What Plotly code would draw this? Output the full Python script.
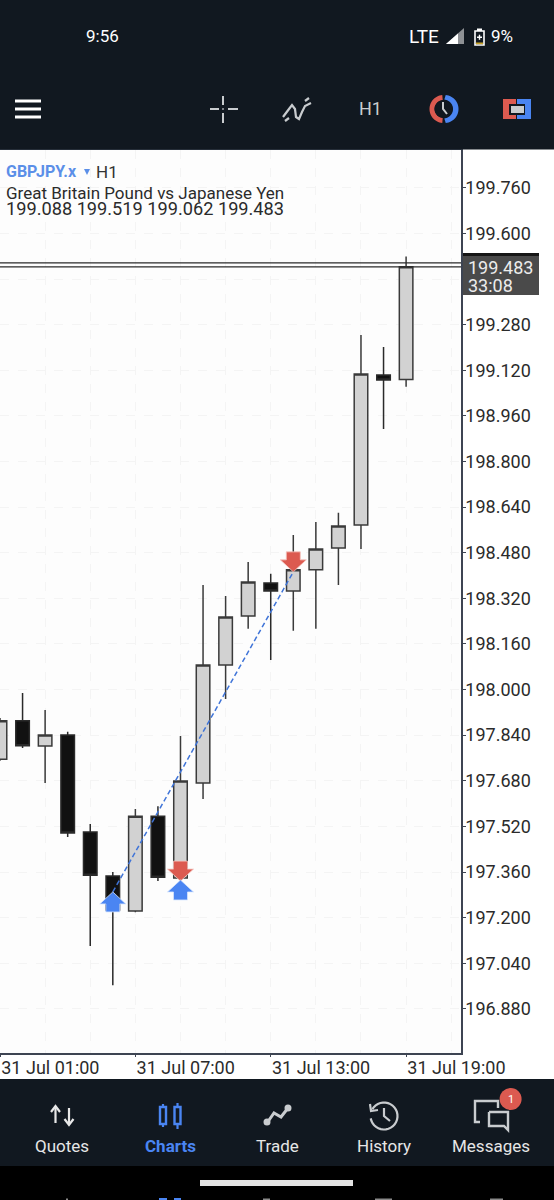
import numpy as np
import plotly.graph_objects as go

W, H = 554, 1200
DARK = "#111820"
GREY = "#c9cccf"
BLUE = "#4a85f2"
RED = "#dc5a50"
FONT = "Roboto"

# 31 Jul hourly candles
times = ["2025-07-31 %02d:00" % h for h in range(1, 20)]
opens = [197.756, 197.891, 197.802, 197.841, 197.500, 197.346, 197.223, 197.556, 197.339, 197.672,
         198.086, 198.258, 198.374, 198.346, 198.420, 198.497, 198.577, 199.104, 199.088]
highs = [197.900, 197.988, 197.928, 197.852, 197.528, 197.360, 197.581, 197.591, 197.837, 198.367,
         198.328, 198.448, 198.406, 198.542, 198.588, 198.620, 199.244, 199.202, 199.519]
lows = [197.750, 197.795, 197.672, 197.483, 197.100, 196.963, 197.219, 197.328, 197.335, 197.616,
        197.967, 198.213, 198.104, 198.206, 198.213, 198.367, 198.493, 198.914, 199.062]
closes = [197.891, 197.803, 197.841, 197.497, 197.349, 197.227, 197.556, 197.342, 197.679, 198.086,
          198.255, 198.377, 198.346, 198.420, 198.493, 198.574, 199.107, 199.086, 199.483]

y_ticks = [196.88, 197.04, 197.2, 197.36, 197.52, 197.68, 197.84, 198.0, 198.16, 198.32,
           198.48, 198.64, 198.8, 198.96, 199.12, 199.28, 199.6, 199.76]
x_ticks = ["2025-07-31 01:00", "2025-07-31 07:00", "2025-07-31 13:00", "2025-07-31 19:00"]
price_lines = [199.483, 199.497]

trade_x = ["2025-07-31 06:00", "2025-07-31 14:00"]
trade_y = [197.290, 198.413]
buy_x = ["2025-07-31 06:00", "2025-07-31 09:00"]
buy_y = [197.290, 197.332]
sell_x = ["2025-07-31 09:00", "2025-07-31 14:00"]
sell_y = [197.328, 198.413]


def px(x):
    return x / W


def py(y):
    return 1 - y / H


shapes = []
notes = []


def rect(x0, y0, x1, y1, color):
    shapes.append(dict(type="rect", xref="paper", yref="paper", x0=px(x0), x1=px(x1), y0=py(y0), y1=py(y1),
                       fillcolor=color, line_width=0))


def circle(cx, cy, r, fill, line=None, lw=0):
    shapes.append(dict(type="circle", xref="paper", yref="paper", x0=px(cx - r), x1=px(cx + r),
                       y0=py(cy - r), y1=py(cy + r), fillcolor=fill, line=dict(color=line, width=lw)))


def poly(points, color=None, line=None, lw=0, close=True):
    d = "M" + " L".join("%.5f %.5f" % (px(a), py(b)) for a, b in points) + (" Z" if close else "")
    shapes.append(dict(type="path", xref="paper", yref="paper", path=d, fillcolor=color,
                       line=dict(color=line, width=lw)))


def seg(points, color, lw):
    poly(points, None, color, lw, close=False)


def arc(cx, cy, r, a0, a1):
    return [(cx + r * np.cos(t), cy + r * np.sin(t)) for t in np.radians(np.linspace(a0, a1, 30))]


def txt(x, y, s, size, color, anchor="left", family=FONT):
    notes.append(dict(xref="paper", yref="paper", x=px(x), y=py(y), text=s, showarrow=False, xanchor=anchor,
                      yanchor="middle", borderpad=0, font=dict(family=family, size=size, color=color)))


# app chrome
rect(0, 0, W, 149.5, DARK)
rect(0, 1079, W, 1166, DARK)
rect(0, 1166, W, H, "#000000")
rect(200, 1180, 353, 1186, "#e4e4e4")
# cut off icons along the bottom edge
rect(66, 1198.5, 68, 1200, "#8a8a8a")
rect(159, 1198, 167, 1200, BLUE)
rect(174, 1198, 181, 1200, BLUE)
rect(263, 1198.5, 270, 1200, "#8a8a8a")
rect(375, 1198.5, 392, 1200, "#8a8a8a")
rect(490, 1198.5, 503, 1200, "#8a8a8a")

# status bar
txt(102, 36, "9:56", 17, "#ffffff", "center")
txt(424, 36, "LTE", 19, "#ffffff", "center")
poly([(446, 44), (464, 28), (464, 44)], "#8e9195")
poly([(446, 44), (458, 33.5), (458, 44)], "#ffffff")
shapes.append(dict(type="rect", xref="paper", yref="paper", x0=px(475), x1=px(484), y0=py(45), y1=py(31),
                   fillcolor=DARK, line=dict(color="#ffffff", width=1.6)))
rect(477, 28.5, 482, 31, "#ffffff")
rect(476, 42.5, 483, 44.2, "#c9a227")
rect(477, 36.5, 482, 38, "#ffffff")
rect(478.8, 34.7, 480.2, 39.8, "#ffffff")
txt(502, 36, "9%", 17, "#ffffff", "center")

# toolbar
for yy in [101, 109, 117]:
    rect(15, yy - 1.5, 41, yy + 1.5, "#ffffff")
rect(210, 108, 219, 110, GREY)
rect(228, 108, 238, 110, GREY)
rect(222, 96, 224, 105, GREY)
rect(222, 113, 224, 123, GREY)
rect(222.2, 108.2, 223.8, 109.8, GREY)
seg([(283, 117), (289, 109), (292, 105), (295, 109), (296, 117), (299, 119), (302, 112), (305, 106), (311, 103)], GREY, 2.2)
seg([(285, 121), (289, 118)], GREY, 2.2)
seg([(305, 101), (309, 98)], GREY, 2.2)
txt(370, 109, "H1", 18, GREY, "center")
poly(arc(443.5, 109, 14, 95, 265) + arc(443.5, 109, 9, 265, 95), RED)
poly(arc(444.5, 109, 14, -85, 85) + arc(443.5, 109, 9.5, 85, -85), BLUE)
circle(443.5, 109, 9, DARK)
seg([(443, 102), (443, 109), (447, 114)], GREY, 2)
rect(503, 99, 516, 119, RED)
rect(517, 99, 531, 119, BLUE)
rect(509, 104, 525, 115, DARK)
rect(511, 106, 524, 113, GREY)

# symbol header
txt(5, 172, "<b>GBPJPY.x</b>", 16, "#5b8fe8")
poly([(84, 169), (90, 169), (87, 175)], "#5b8fe8")
txt(95, 172, "H1", 17, "#333333")
txt(5, 193, "Great Britain Pound vs Japanese Yen", 17, "#2b2b2b")
txt(5, 208, "199.088 199.519 199.062 199.483", 18.2, "#2b2b2b")

# price tag
rect(463, 253, 539, 295, "#4a4a4a")
rect(463, 253, 539, 256, "#161616")
txt(467, 267, "199.483", 18, "#ececec")
txt(467, 286, "33:08", 18, "#ececec")

# bottom navigation
nav_names = ["Quotes", "Charts", "Trade", "History", "Messages"]
nav_x = [62, 170, 277, 384, 491]
for name, xx in zip(nav_names, nav_x):
    txt(xx, 1146, "<b>Charts</b>" if name == "Charts" else name, 17, BLUE if name == "Charts" else "#e6e6e6", "center")
seg([(55.5, 1123), (55.5, 1107)], "#e8e8e8", 2.2)
seg([(51, 1112), (55.5, 1106), (60, 1112)], "#e8e8e8", 2.2)
seg([(69, 1108), (69, 1124)], "#e8e8e8", 2.2)
seg([(64.5, 1119), (69, 1125), (73.5, 1119)], "#e8e8e8", 2.2)
seg([(163, 1104), (163, 1127)], BLUE, 2.2)
seg([(177.5, 1103), (177.5, 1129)], BLUE, 2.2)
shapes.append(dict(type="rect", xref="paper", yref="paper", x0=px(160), x1=px(166), y0=py(1124), y1=py(1107),
                   fillcolor=DARK, line=dict(color=BLUE, width=2.4)))
shapes.append(dict(type="rect", xref="paper", yref="paper", x0=px(174.5), x1=px(180.5), y0=py(1124), y1=py(1107),
                   fillcolor=DARK, line=dict(color=BLUE, width=2.4)))
seg([(267, 1123), (274, 1113), (281, 1117), (288, 1108)], GREY, 3)
circle(267, 1122, 3.5, GREY)
circle(288, 1108, 3.5, GREY)
seg(arc(384, 1116, 13.5, -150, 170), GREY, 2.2)
seg([(370, 1104), (371, 1111), (378, 1110)], GREY, 2.2)
seg([(384, 1108), (384, 1116), (390, 1121)], GREY, 2.2)
seg([(498, 1108), (498, 1101), (475, 1101), (475, 1122), (480, 1122)], GREY, 2.4)
seg([(489, 1112), (508, 1112), (508, 1130), (504, 1126), (489, 1126), (489, 1112)], GREY, 2.4)
circle(510.6, 1099, 11, RED)
txt(510.6, 1099, "1", 11, "#ffffff", "center")

# bid and ask lines
for p in price_lines:
    shapes.append(dict(type="line", xref="x", yref="y", x0=times[0], x1="2025-07-31 21:26", y0=p, y1=p,
                       line=dict(color="#2a2a2a", width=1.2)))

# trade arrows, sized in pixels and anchored on price
UP = "M0 0 L13 -12 L7 -12 L7 -20 L-7 -20 L-7 -12 L-13 -12 Z"
DOWN = "M0 0 L13 12 L7 12 L7 20 L-7 20 L-7 12 L-13 12 Z"
for xx, yy in zip(sell_x, sell_y):
    shapes.append(dict(type="path", xref="x", yref="y", xsizemode="pixel", ysizemode="pixel", xanchor=xx, yanchor=yy,
                       path=DOWN, fillcolor=RED, line=dict(color="#f4c6c0", width=0.8)))
for xx, yy in zip(buy_x, buy_y):
    shapes.append(dict(type="path", xref="x", yref="y", xsizemode="pixel", ysizemode="pixel", xanchor=xx, yanchor=yy,
                       path=UP, fillcolor=BLUE, line=dict(color="#d6e4fc", width=0.8)))

fig = go.Figure()
fig.add_trace(go.Candlestick(x=times, open=opens, high=highs, low=lows, close=closes,
                             increasing=dict(fillcolor="#d2d2d2", line=dict(color="#3a3a3a", width=1.5)),
                             decreasing=dict(fillcolor="#111111", line=dict(color="#2a2a2a", width=1.5)),
                             whiskerwidth=0, hoverinfo="skip", showlegend=False))
fig.add_trace(go.Scatter(x=trade_x, y=trade_y, mode="lines", hoverinfo="skip", showlegend=False,
                         line=dict(color="#3f74d8", width=1.5, dash="5px,3px")))

grid = "#f4f4f4"
fig.update_layout(
    width=W, height=H, margin=dict(l=0, r=0, t=0, b=0, pad=0), showlegend=False, boxgap=0.4, boxgroupgap=0,
    paper_bgcolor="#ffffff", plot_bgcolor="#fdfdfd", font=dict(family=FONT, color="#2b2b2b"),
    shapes=shapes, annotations=notes,
    xaxis=dict(type="date", domain=[0, 461 / W], range=["2025-07-31 01:00", "2025-07-31 21:26"], automargin=False,
               rangeslider_visible=False, tickvals=x_ticks, tickformat="%d %b %H:%M",
               ticklabelposition="outside right", ticklabeloverflow="allow", ticks="outside", ticklen=2,
               ticklabelstandoff=-2, tickcolor="#3d4452", tickfont=dict(size=18, family=FONT, color="#2b2b2b"),
               showline=True, linecolor="#3d4452", linewidth=1.5, mirror=True,
               showgrid=True, gridcolor=grid, griddash="dash",
               minor=dict(dtick=7200000, tick0="2025-07-31 01:00", showgrid=True, gridcolor=grid, griddash="dash", ticks="")),
    yaxis=dict(domain=[1 - 1053 / H, 1 - 150 / H], range=[196.725, 199.893], side="right", automargin=False,
               tickvals=y_ticks, tickformat=".3f", ticks="outside", ticklen=3, ticklabelstandoff=-4, tickcolor="#3d4452",
               tickfont=dict(size=18, family=FONT, color="#2b2b2b"),
               showline=True, linecolor="#3d4452", linewidth=1.5,
               showgrid=True, gridcolor=grid, griddash="dash", zeroline=False,
               minor=dict(tickvals=[199.44], showgrid=True, gridcolor=grid, griddash="dash", ticks="")),
)

fig.write_html("out.html", config={"displayModeBar": False},
               post_script="document.body.style.margin='0';document.body.style.overflow='hidden';")
